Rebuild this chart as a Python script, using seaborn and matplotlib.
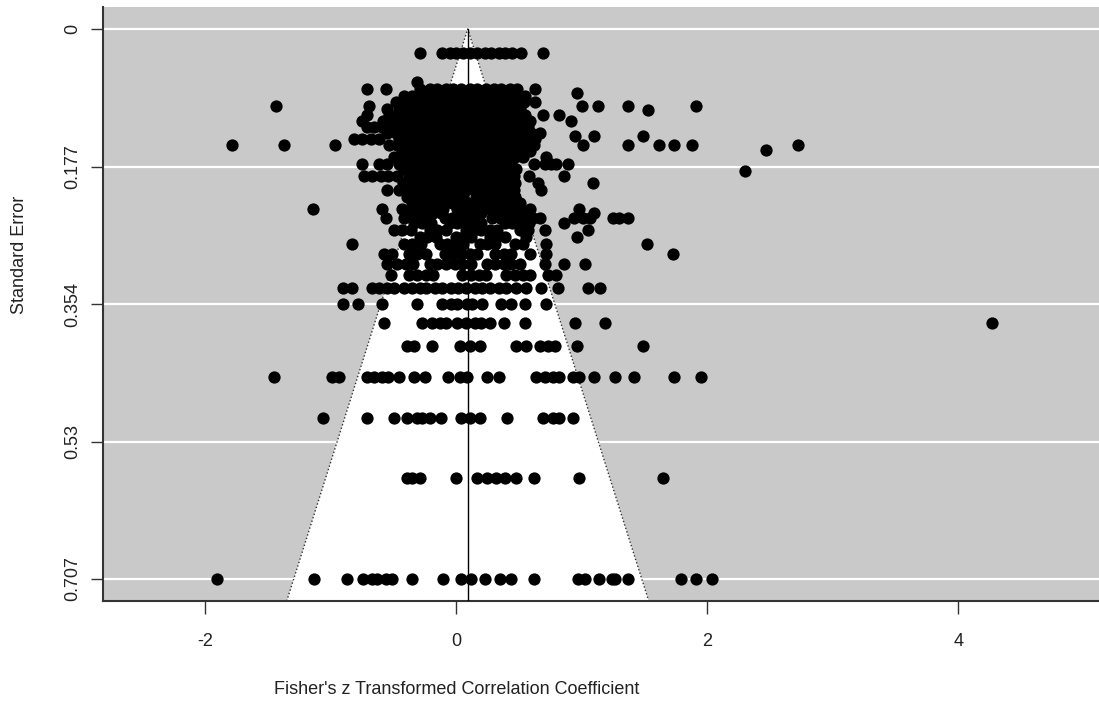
import numpy as np
import pandas as pd
import matplotlib
matplotlib.use("Agg")
import matplotlib.pyplot as plt
import seaborn as sns

# Fisher z estimates grouped by standard error, small studies first
small_se = [0.707, 0.577, 0.500, 0.447, 0.408, 0.378, 0.354, 0.333, 0.316]
small_z = [
    [-1.90, -1.13, -0.87, -0.74, -0.67, -0.63, -0.56, -0.51, -0.35, -0.10, 0.04, 0.12, 0.23,
     0.35, 0.44, 0.62, 0.97, 1.03, 1.14, 1.24, 1.27, 1.37, 1.79, 1.91, 2.04],
    [-0.39, -0.35, -0.29, 0.00, 0.17, 0.25, 0.32, 0.39, 0.48, 0.62, 0.98, 1.65],
    [-1.06, -0.71, -0.49, -0.39, -0.31, -0.27, -0.21, -0.12, 0.04, 0.11, 0.19, 0.41, 0.69,
     0.77, 0.82, 0.93],
    [-1.45, -0.99, -0.93, -0.71, -0.65, -0.59, -0.54, -0.45, -0.33, -0.25, -0.06, 0.03, 0.09,
     0.25, 0.34, 0.64, 0.71, 0.77, 0.82, 0.93, 0.98, 1.10, 1.27, 1.42, 1.74, 1.95],
    [-0.39, -0.33, -0.19, 0.03, 0.11, 0.19, 0.48, 0.56, 0.67, 0.73, 0.79, 0.96, 1.49],
    [-0.57, -0.27, -0.19, -0.13, -0.08, 0.01, 0.08, 0.15, 0.20, 0.27, 0.38, 0.55, 0.95, 1.19, 4.27],
    [-0.90, -0.78, -0.59, -0.31, -0.11, -0.04, 0.01, 0.09, 0.13, 0.21, 0.36, 0.44, 0.55, 0.72],
    [-0.90, -0.83, -0.67, -0.61, -0.55, -0.49, -0.41, -0.35, -0.29, -0.24, -0.17, -0.11, -0.04,
     0.02, 0.08, 0.15, 0.21, 0.27, 0.34, 0.40, 0.48, 0.56, 0.68, 0.81, 1.05, 1.15],
    [-0.52, -0.37, -0.31, -0.24, -0.18, 0.05, 0.12, 0.18, 0.24, 0.40, 0.47, 0.53, 0.59, 0.73, 0.80],
]

mid_se = [0.302, 0.289, 0.277, 0.267, 0.259, 0.250, 0.243, 0.237, 0.231, 0.224, 0.216, 0.207]
mid_z = [
    [-0.55, -0.47, -0.40, -0.34, -0.21, -0.15, -0.08, -0.01, 0.05, 0.12, 0.25, 0.31, 0.38, 0.44,
     0.51, 0.71, 0.86, 1.03],
    [-0.57, -0.51, -0.37, -0.31, -0.24, -0.09, -0.03, 0.04, 0.11, 0.17, 0.31, 0.38, 0.44, 0.59,
     0.72, 1.73],
    [-0.83, -0.41, -0.35, -0.28, -0.13, -0.07, 0.00, 0.06, 0.19, 0.25, 0.31, 0.47, 0.53, 0.72, 1.52],
    [-0.29, -0.23, -0.16, 0.00, 0.06, 0.12, 0.27, 0.33, 0.39, 0.56, 0.96],
    [-0.49, -0.43, -0.36, -0.21, -0.15, -0.08, 0.08, 0.14, 0.20, 0.27, 0.33, 0.51, 0.57, 0.71, 1.05],
    [-0.33, -0.27, -0.20, -0.05, 0.01, 0.08, 0.14, 0.20, 0.39, 0.45, 0.51, 0.58, 0.86],
    [-0.56, -0.41, -0.35, -0.28, -0.09, -0.03, 0.04, 0.10, 0.29, 0.35, 0.42, 0.48, 0.55, 0.61,
     0.67, 0.94, 1.01, 1.07, 1.25, 1.30, 1.37],
    [-0.37, -0.31, -0.24, -0.18, -0.12, 0.08, 0.14, 0.20, 0.35, 0.41, 0.47, 1.10],
    [-1.14, -0.59, -0.43, -0.29, -0.23, -0.16, -0.10, 0.01, 0.08, 0.14, 0.27, 0.33, 0.39, 0.46,
     0.52, 0.59, 0.98],
    [-0.35, -0.28, -0.22, -0.16, -0.09, -0.03, 0.04, 0.10, 0.19, 0.25, 0.31, 0.38, 0.44, 0.51],
    [-0.39, -0.32, -0.26, -0.20, -0.13, -0.07, 0.00, 0.06, 0.16, 0.22, 0.28, 0.35, 0.41, 0.47],
    [-0.55, -0.45, -0.37, -0.31, -0.24, -0.18, -0.12, -0.05, 0.01, 0.08, 0.14, 0.20, 0.27, 0.33,
     0.39, 0.46, 0.68],
]

large_se = [0.198, 0.189, 0.180, 0.173, 0.165, 0.157, 0.149, 0.142, 0.134, 0.126, 0.118, 0.111,
            0.103, 0.094, 0.086, 0.077, 0.031]
large_z = [
    [-0.42, -0.35, -0.29, -0.23, -0.16, -0.10, -0.04, 0.03, 0.09, 0.16, 0.22, 0.28, 0.35, 0.41,
     0.47, 0.65, 1.09],
    [-0.73, -0.67, -0.60, -0.54, -0.47, -0.37, -0.31, -0.24, -0.18, -0.12, -0.05, 0.01, 0.08, 0.14,
     0.20, 0.27, 0.33, 0.39, 0.46, 0.58, 0.86],
    [-0.41, -0.35, -0.28, -0.22, -0.16, -0.09, -0.03, 0.04, 0.10, 0.16, 0.23, 0.29, 0.35, 0.42, 0.48],
    [-0.75, -0.61, -0.55, -0.45, -0.39, -0.32, -0.26, -0.20, -0.13, -0.07, 0.00, 0.06, 0.12, 0.19,
     0.25, 0.31, 0.38, 0.44, 0.62, 0.71, 0.76, 0.80, 0.89],
    [-0.49, -0.43, -0.36, -0.30, -0.24, -0.17, -0.11, -0.04, 0.02, 0.08, 0.15, 0.21, 0.27, 0.34,
     0.40, 0.47, 0.53, 0.72],
    [-0.43, -0.37, -0.31, -0.24, -0.18, -0.12, -0.05, 0.01, 0.08, 0.14, 0.20, 0.27, 0.33, 0.39,
     0.46, 0.52, 0.59],
    [-1.78, -1.37, -0.96, -0.53, -0.47, -0.40, -0.34, -0.27, -0.21, -0.15, -0.08, -0.02, 0.04, 0.11,
     0.17, 0.24, 0.30, 0.36, 0.43, 0.49, 0.55, 0.62, 1.01, 1.37, 1.62, 1.74, 1.88, 2.72],
    [-0.81, -0.75, -0.68, -0.61, -0.45, -0.39, -0.32, -0.26, -0.20, -0.13, -0.07, 0.00, 0.06, 0.12,
     0.19, 0.25, 0.31, 0.38, 0.44, 0.51, 0.57, 0.63],
    [-0.55, -0.48, -0.42, -0.35, -0.29, -0.23, -0.16, -0.10, -0.04, 0.03, 0.09, 0.16, 0.22, 0.28,
     0.35, 0.41, 0.47, 0.54, 0.60, 0.67],
    [-0.71, -0.65, -0.59, -0.51, -0.45, -0.39, -0.32, -0.26, -0.20, -0.13, -0.07, 0.00, 0.06, 0.12,
     0.19, 0.25, 0.31, 0.38, 0.44, 0.51, 0.57],
    [-0.75, -0.58, -0.49, -0.43, -0.36, -0.30, -0.24, -0.17, -0.11, -0.04, 0.02, 0.08, 0.15, 0.21,
     0.27, 0.34, 0.40, 0.47, 0.53, 0.59, 0.92],
    [-0.71, -0.53, -0.47, -0.40, -0.34, -0.27, -0.21, -0.15, -0.08, -0.02, 0.04, 0.11, 0.17, 0.24,
     0.30, 0.36, 0.43, 0.49, 0.55, 0.69, 0.82],
    [-0.55, -0.45, -0.39, -0.32, -0.26, -0.20, -0.13, -0.07, 0.00, 0.06, 0.12, 0.19, 0.25, 0.31,
     0.38, 0.44, 0.51],
    [-0.48, -0.42, -0.35, -0.29, -0.23, -0.16, -0.10, -0.04, 0.03, 0.09, 0.16, 0.22, 0.28, 0.35,
     0.41, 0.47, 0.54, 0.63],
    [-0.41, -0.35, -0.28, -0.22, -0.16, -0.09, -0.03, 0.04, 0.10, 0.16, 0.23, 0.29, 0.35, 0.42,
     0.48, 0.55],
    [-0.71, -0.56, -0.29, -0.21, -0.15, -0.08, -0.02, 0.04, 0.11, 0.17, 0.24, 0.30, 0.36, 0.43,
     0.49, 0.63],
    [-0.29, -0.11, -0.05, 0.00, 0.06, 0.11, 0.17, 0.23, 0.28, 0.34, 0.39, 0.45, 0.52, 0.69],
]

# isolated studies that do not sit on the rows above
extra_se = [0.099, 0.099, 0.099, 0.099, 0.099, 0.099, 0.104, 0.082, 0.137, 0.137, 0.137,
            0.155, 0.182, 0.068]
extra_z = [-1.43, -0.69, 1.00, 1.13, 1.37, 1.91, 1.53, 0.96, 0.95, 1.10, 1.49, 2.47, 2.30, -0.31]

pooled_estimate = 0.094
ytick_labels = ["0", "0.177", "0.354", "0.53", "0.707"]
xtick_values = [-2, 0, 2, 4]
xtick_labels = ["-2", "0", "2", "4"]

# long-format table for seaborn
records = []
for levels, groups in ((small_se, small_z), (mid_se, mid_z), (large_se, large_z)):
    for se, zs in zip(levels, groups):
        records.extend((z, se) for z in zs)
records.extend(zip(extra_z, extra_se))
df = pd.DataFrame(records, columns=["zi", "sei"])

sns.set_style("white")
plt.rcParams["font.family"] = ["Liberation Sans", "DejaVu Sans"]

W, H = 1099, 703
fig = plt.figure(figsize=(W / 100, H / 100), dpi=100)
ax = fig.add_axes([103 / W, 1 - 601 / H, 996 / W, 594 / H])

se_max = df["sei"].max()
pad = 0.04 * se_max
y_bottom = se_max + pad
ytick_values = np.linspace(0, se_max, 5)

ax.set_facecolor("#c9c9c9")
for t in ytick_values:
    ax.axhline(t, color="white", lw=1.6, zorder=1)

# pseudo confidence region
half = 1.96 * y_bottom
ax.fill([pooled_estimate - half, pooled_estimate, pooled_estimate + half],
        [y_bottom, 0, y_bottom], color="white", zorder=2, lw=0)
ax.plot([pooled_estimate - half, pooled_estimate, pooled_estimate + half],
        [y_bottom, 0, y_bottom], color="#333333", lw=1.0, ls=(0, (1, 1.6)), zorder=3)
ax.plot([pooled_estimate, pooled_estimate], [0, y_bottom], color="black", lw=1.0, zorder=3)

sns.scatterplot(data=df, x="zi", y="sei", color="black", s=78, linewidth=0,
                ax=ax, zorder=4, legend=False)

ax.set_xlim(-2.81, 5.12)
ax.set_ylim(y_bottom, -pad)

ax.set_xticks(xtick_values)
ax.set_xticklabels(xtick_labels)
ax.set_yticks(ytick_values)
ax.set_yticklabels(ytick_labels, rotation=90, va="center")
ax.tick_params(axis="both", which="both", length=9, width=1.0, color="#333333",
               labelsize=13, labelcolor="#222222", left=True, bottom=True)
ax.tick_params(axis="x", pad=14)
ax.tick_params(axis="y", pad=7)

for side in ("top", "right"):
    ax.spines[side].set_visible(False)
for side in ("left", "bottom"):
    ax.spines[side].set_color("#333333")
    ax.spines[side].set_linewidth(1.5)

ax.set_xlabel("")
ax.set_ylabel("")
fig.text(457 / W, 1 - 690 / H, "Fisher's z Transformed Correlation Coefficient",
         ha="center", va="center", fontsize=13, color="#222222")
fig.text(20 / W, 1 - 255 / H, "Standard Error", ha="center", va="center",
         rotation=90, fontsize=13, color="#222222")

fig.savefig("out.png", dpi=100)
